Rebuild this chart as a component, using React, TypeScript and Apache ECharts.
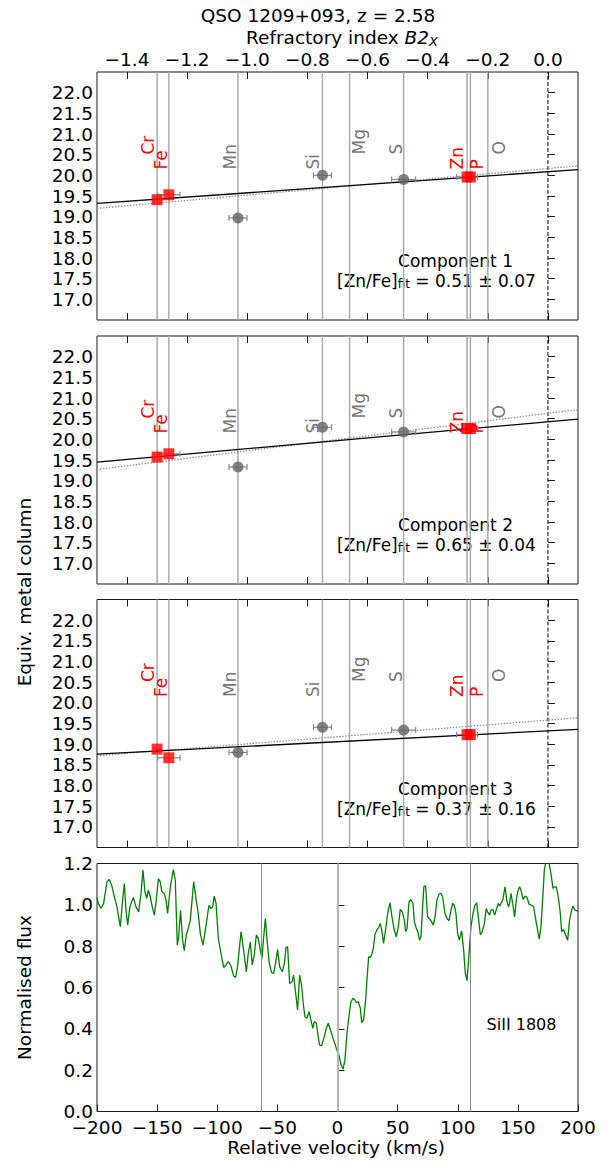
import React, { useEffect, useRef } from 'react';
import * as echarts from 'echarts';

// ---------------- data ----------------
const elements = ['Cr', 'Fe', 'Mn', 'Si', 'Mg', 'S', 'Zn', 'P', 'O'];
const refractoryIndex = [-1.3, -1.261, -1.031, -0.75, -0.66, -0.48, -0.269, -0.258, -0.2];
const refractoryErr = [0.01, 0.037, 0.03, 0.03, 0, 0.04, 0.035, 0.01, 0];
const redElements = ['Cr', 'Fe', 'Zn', 'P'];

const component1 = [19.41, 19.53, 18.97, 20.0, null, 19.9, 19.96, 19.96, null];
const component2 = [19.57, 19.65, 19.33, 20.29, null, 20.18, 20.26, 20.26, null];
const component3 = [18.88, 18.67, 18.8, 19.41, null, 19.34, 19.23, 19.23, null];
const components = [component1, component2, component3];

const fitRange = [-1.5, 0.1];
const fitSolid = [
  [19.32, 20.14],
  [19.45, 20.49],
  [18.76, 19.36],
];
const fitDotted = [
  [19.2, 20.23],
  [19.27, 20.72],
  [18.72, 19.64],
];
const znFeFit = ['0.51 ± 0.07', '0.65 ± 0.04', '0.37 ± 0.16'];
const componentNames = ['Component 1', 'Component 2', 'Component 3'];

const b2xTicks = [-1.4, -1.2, -1.0, -0.8, -0.6, -0.4, -0.2, 0.0];
const columnTicks = [17.0, 17.5, 18.0, 18.5, 19.0, 19.5, 20.0, 20.5, 21.0, 21.5, 22.0];

const velocity = [
  -200.0, -198.9, -196.7, -194.5, -191.7, -189.8, -187.8, -185.6, -183.4, -180.6,
  -178.7, -177.3, -175.9, -174.5, -172.6, -169.8, -167.6, -165.4, -163.4, -161.8,
  -160.1, -158.7, -157.3, -155.7, -153.7, -152.3, -150.7, -149.0, -147.4, -146.0,
  -144.0, -142.6, -141.3, -139.0, -136.5, -134.9, -133.2, -132.1, -130.5, -128.8,
  -127.4, -125.7, -124.1, -122.4, -119.6, -117.7, -115.8, -114.1, -111.9, -109.9,
  -106.9, -105.2, -103.8, -102.5, -101.0, -99.1, -96.9, -94.7, -92.7, -90.8,
  -88.6, -86.4, -84.7, -83.1, -80.2, -78.1, -75.8, -74.2, -72.5, -70.9,
  -69.2, -67.5, -65.9, -64.2, -62.8, -61.5, -60.0, -58.6, -56.7, -54.8,
  -53.1, -51.5, -49.8, -48.1, -45.9, -44.2, -42.8, -41.5, -39.8, -37.8,
  -36.5, -34.8, -33.2, -31.5, -29.9, -28.2, -27.0, -25.4, -23.5, -21.5,
  -20.4, -19.3, -17.6, -16.0, -14.9, -13.2, -11.0, -9.3, -7.7, -5.4,
  -3.2, -1.0, 1.5, 2.9, 4.6, 6.2, 7.9, 9.8, 11.2, 12.9,
  14.6, 15.6, 17.3, 19.0, 20.1, 21.7, 23.4, 24.5, 25.9, 27.3,
  28.7, 29.8, 31.2, 32.8, 34.5, 35.6, 37.0, 38.3, 40.3, 41.7,
  43.7, 45.3, 47.2, 48.9, 50.6, 52.2, 53.9, 55.6, 56.6, 57.8,
  59.5, 61.1, 62.8, 63.9, 65.5, 66.6, 68.3, 69.4, 71.1, 71.9,
  73.3, 74.9, 76.3, 78.3, 79.7, 81.1, 82.7, 84.4, 86.1, 87.4,
  89.4, 91.1, 92.7, 94.4, 95.7, 97.1, 98.5, 99.9, 101.3, 103.2,
  104.9, 106.3, 107.7, 109.4, 111.0, 112.7, 114.3, 115.7, 117.1, 118.8,
  120.4, 122.1, 123.7, 124.8, 126.5, 127.6, 129.3, 130.7, 132.1, 133.7,
  134.8, 136.0, 137.6, 139.3, 141.0, 142.3, 143.1, 144.3, 145.9, 147.3,
  148.7, 149.8, 151.4, 152.6, 154.3, 155.9, 157.6, 159.3, 161.4, 163.1,
  164.7, 166.4, 167.8, 169.2, 170.9, 172.0, 173.4, 175.6, 177.5, 179.2,
  180.3, 182.0, 183.6, 185.3, 186.4, 188.0, 189.7, 191.4, 193.0, 194.7,
  195.8, 197.5, 199.7,
];
const flux = [
  1.036, 1.007, 0.982, 1.007, 1.111, 1.123, 1.095, 1.039, 0.99, 0.894,
  1.023, 1.103, 0.974, 0.902, 0.99, 1.036, 0.99, 0.966, 1.055, 1.168,
  1.063, 1.031, 1.071, 1.039, 0.982, 0.95, 1.023, 1.127, 1.111, 1.063,
  1.055, 1.023, 0.958, 1.087, 1.171, 1.119, 0.805, 0.845, 0.974, 0.829,
  0.778, 0.854, 0.886, 0.926, 1.111, 1.031, 0.958, 0.862, 0.805, 0.878,
  0.998, 0.982, 0.99, 1.042, 1.007, 0.838, 0.765, 0.697, 0.709, 0.725,
  0.704, 0.656, 0.649, 0.701, 0.87, 0.781, 0.676, 0.765, 0.821, 0.709,
  0.757, 0.854, 0.838, 0.781, 0.741, 0.838, 0.934, 0.829, 0.717, 0.672,
  0.668, 0.717, 0.784, 0.701, 0.676, 0.717, 0.794, 0.797, 0.62, 0.628,
  0.66, 0.572, 0.491, 0.66, 0.612, 0.507, 0.459, 0.451, 0.483, 0.427,
  0.403, 0.435, 0.427, 0.362, 0.321, 0.318, 0.362, 0.403, 0.427, 0.386,
  0.346, 0.306, 0.266, 0.226, 0.205, 0.25, 0.379, 0.475, 0.531, 0.548,
  0.54, 0.527, 0.531, 0.5, 0.43, 0.443, 0.54, 0.636, 0.749, 0.745,
  0.765, 0.789, 0.858, 0.878, 0.894, 0.91, 0.87, 0.813, 0.894, 0.958,
  1.01, 0.942, 0.878, 0.845, 0.894, 0.978, 0.966, 0.926, 0.87, 0.886,
  1.015, 1.026, 1.007, 0.918, 0.886, 0.874, 0.829, 0.845, 1.023, 1.09,
  1.09, 0.942, 0.934, 0.918, 0.902, 0.942, 1.023, 1.052, 1.055, 1.039,
  0.958, 0.934, 0.923, 0.974, 1.007, 0.998, 0.96, 0.862, 0.829, 0.874,
  0.781, 0.668, 0.633, 0.765, 0.894, 0.958, 0.998, 1.01, 0.942, 0.854,
  0.87, 0.91, 0.982, 0.966, 0.95, 0.974, 0.977, 0.95, 0.977, 1.007,
  0.994, 1.007, 1.026, 1.087, 1.015, 0.99, 1.007, 1.055, 0.998, 0.942,
  1.023, 1.063, 1.087, 1.071, 1.026, 1.042, 1.036, 1.003, 0.998, 0.99,
  0.934, 0.878, 0.834, 0.894, 1.055, 1.168, 1.215, 1.21, 1.152, 1.079,
  1.087, 1.087, 1.039, 0.958, 0.87, 0.881, 0.854, 0.829, 0.926, 0.974,
  0.994, 0.974, 0.97,
];
const velocityMarkers = [-63, 0, 110];
const velocityTicks = [-200, -150, -100, -50, 0, 50, 100, 150, 200];
const fluxTicks = [0.0, 0.2, 0.4, 0.6, 0.8, 1.0, 1.2];

// ---------------- layout / style ----------------
const FONT = 'DejaVu Sans';
const GRID_LEFT = 97;
const GRID_WIDTH = 481;
const GRID_HEIGHT = 248;
const GRID_TOPS = [72, 336, 599.5, 863.5];
// label placement relative to element line (pixels) and distance from panel top
const labelDx = [-9, -8, -8, -9, 9, -8, -10, 7, 11];
const labelDy = [82.5, 97.5, 97.5, 97.5, 82.5, 82.5, 97.5, 97.5, 82.5];

const fmtMinus = (v: number, d: number) => {
  const s = Math.abs(v).toFixed(d);
  return v < -1e-9 ? '\u2212' + s : s;
};

export default function App() {
  const ref = useRef<HTMLDivElement>(null);

  useEffect(() => {
    if (!ref.current) return;
    const chart = echarts.init(ref.current, undefined, { renderer: 'svg' });

    const grids: any[] = GRID_TOPS.map((top) => ({
      left: GRID_LEFT,
      top,
      width: GRID_WIDTH,
      height: GRID_HEIGHT,
      show: true,
      borderColor: '#1a1a1a',
      borderWidth: 1,
      backgroundColor: 'transparent',
      containLabel: false,
      outerBoundsMode: 'none',
    }));

    const xAxes: any[] = [];
    const yAxes: any[] = [];
    for (let p = 0; p < 3; p++) {
      ['top', 'bottom'].forEach((pos) => {
        xAxes.push({
          type: 'value',
          gridIndex: p,
          position: pos,
          min: fitRange[0],
          max: fitRange[1],
          axisLine: { show: false },
          splitLine: { show: false },
          axisTick: {
            show: true,
            inside: true,
            length: 7,
            customValues: b2xTicks,
            lineStyle: { color: '#1a1a1a', width: 1 },
          },
          axisLabel: {
            show: p === 0 && pos === 'top',
            customValues: b2xTicks,
            formatter: (v: number) => fmtMinus(v, 1),
            fontSize: 18.5,
            fontFamily: FONT,
            color: '#000',
            margin: 3,
          },
        });
      });
      yAxes.push({
        type: 'value',
        gridIndex: p,
        min: 16.5,
        max: 22.5,
        axisLine: { show: false },
        splitLine: { show: false },
        axisTick: {
          show: true,
          inside: true,
          length: 7,
          customValues: columnTicks,
          lineStyle: { color: '#1a1a1a', width: 1 },
        },
        axisLabel: {
          customValues: columnTicks,
          formatter: (v: number) => v.toFixed(1),
          fontSize: 18.5,
          fontFamily: FONT,
          color: '#000',
          margin: 4,
        },
      });
    }
    xAxes.push({
      type: 'value',
      gridIndex: 3,
      position: 'bottom',
      min: -200,
      max: 200,
      interval: 50,
      axisLine: { show: false },
      splitLine: { show: false },
      axisTick: { show: true, inside: true, length: 7, customValues: velocityTicks, lineStyle: { color: '#1a1a1a' } },
      axisLabel: {
        customValues: velocityTicks,
        formatter: (v: number) => fmtMinus(v, 0),
        fontSize: 18.5,
        lineHeight: 14,
        fontFamily: FONT,
        color: '#000',
        margin: 9,
      },
    });
    yAxes.push({
      type: 'value',
      gridIndex: 3,
      min: 0,
      max: 1.2,
      interval: 0.2,
      axisLine: { show: false },
      splitLine: { show: false },
      axisTick: { show: true, inside: true, length: 7, customValues: fluxTicks, lineStyle: { color: '#1a1a1a' } },
      axisLabel: {
        customValues: fluxTicks,
        formatter: (v: number) => v.toFixed(1),
        fontSize: 18.5,
        lineHeight: 14,
        fontFamily: FONT,
        color: '#000',
        margin: 4,
      },
    });

    const series: any[] = [];
    const graphics: any[] = [];

    for (let p = 0; p < 3; p++) {
      const xi = 2 * p;
      const yi = p;
      const vals = components[p];

      // element vertical lines
      series.push({
        type: 'custom',
        xAxisIndex: xi,
        yAxisIndex: yi,
        silent: true,
        z: 1,
        encode: { x: 0 },
        data: refractoryIndex.map((x) => [x]),
        renderItem: (params: any, api: any) => {
          const cs = params.coordSys;
          const px = api.coord([api.value(0), 20])[0];
          return {
            type: 'line',
            shape: { x1: px, y1: cs.y, x2: px, y2: cs.y + cs.height },
            style: { stroke: '#ababab', lineWidth: 1.5 },
          };
        },
      });

      // zero dashed line
      series.push({
        type: 'line',
        xAxisIndex: xi,
        yAxisIndex: yi,
        silent: true,
        z: 2,
        symbol: 'none',
        data: [
          [0, 16.5],
          [0, 22.5],
        ],
        lineStyle: { color: '#000', width: 1, type: [4, 2] },
      });

      // dotted fit
      series.push({
        type: 'line',
        xAxisIndex: xi,
        yAxisIndex: yi,
        silent: true,
        z: 3,
        symbol: 'none',
        data: [
          [fitRange[0], fitDotted[p][0]],
          [fitRange[1], fitDotted[p][1]],
        ],
        lineStyle: { color: '#8c8c8c', width: 1.2, type: [1.5, 1.5] },
      });

      // solid fit
      series.push({
        type: 'line',
        xAxisIndex: xi,
        yAxisIndex: yi,
        silent: true,
        z: 3,
        symbol: 'none',
        data: [
          [fitRange[0], fitSolid[p][0]],
          [fitRange[1], fitSolid[p][1]],
        ],
        lineStyle: { color: '#000', width: 1.3 },
      });

      // error bars
      const errData: any[] = [];
      elements.forEach((el, i) => {
        if (vals[i] !== null) errData.push([refractoryIndex[i], vals[i], refractoryErr[i]]);
      });
      series.push({
        type: 'custom',
        xAxisIndex: xi,
        yAxisIndex: yi,
        silent: true,
        z: 4,
        encode: { x: 0, y: 1 },
        data: errData,
        renderItem: (params: any, api: any) => {
          const x = api.value(0);
          const y = api.value(1);
          const e = api.value(2);
          const a = api.coord([x - e, y]);
          const b = api.coord([x + e, y]);
          const st = { stroke: '#8a8a8a', lineWidth: 1.2 };
          return {
            type: 'group',
            children: [
              { type: 'line', shape: { x1: a[0], y1: a[1], x2: b[0], y2: b[1] }, style: st },
              { type: 'line', shape: { x1: a[0], y1: a[1] - 3, x2: a[0], y2: a[1] + 3 }, style: st },
              { type: 'line', shape: { x1: b[0], y1: b[1] - 3, x2: b[0], y2: b[1] + 3 }, style: st },
            ],
          };
        },
      });

      // grey circles / red squares
      const circ: any[] = [];
      const sq: any[] = [];
      elements.forEach((el, i) => {
        if (vals[i] === null) return;
        if (redElements.includes(el)) sq.push([refractoryIndex[i], vals[i]]);
        else circ.push([refractoryIndex[i], vals[i]]);
      });
      series.push({
        type: 'scatter',
        xAxisIndex: xi,
        yAxisIndex: yi,
        silent: true,
        z: 5,
        symbol: 'circle',
        symbolSize: 11,
        itemStyle: { color: '#636363' },
        data: circ,
      });
      series.push({
        type: 'scatter',
        xAxisIndex: xi,
        yAxisIndex: yi,
        silent: true,
        z: 5,
        symbol: 'rect',
        symbolSize: 11,
        itemStyle: { color: '#ff0000' },
        data: sq,
      });

      // element labels
      series.push({
        type: 'custom',
        xAxisIndex: xi,
        yAxisIndex: yi,
        silent: true,
        z: 6,
        encode: { x: 0 },
        data: refractoryIndex.map((x) => [x]),
        renderItem: (params: any, api: any) => {
          const cs = params.coordSys;
          const i = params.dataIndex;
          const px = api.coord([api.value(0), 20])[0];
          const el = elements[i];
          return {
            type: 'text',
            x: px + labelDx[i],
            y: cs.y + labelDy[i],
            rotation: Math.PI / 2,
            style: {
              text: el,
              x: 0,
              y: 0,
              align: 'left',
              verticalAlign: 'middle',
              fill: redElements.includes(el) ? '#ff0000' : '#777777',
              font: `17px "${FONT}"`,
            },
          };
        },
      });

      // component text
      const top = GRID_TOPS[p];
      graphics.push({
        type: 'text',
        x: 455.5,
        y: top + 189,
        style: {
          text: componentNames[p],
          align: 'center',
          verticalAlign: 'middle',
          fill: '#000',
          font: `17px "${FONT}"`,
        },
      });
      graphics.push({
        type: 'text',
        x: 337,
        y: top + 209,
        style: {
          text: `{m|[Zn/Fe]}{s|fit}{m| = ${znFeFit[p]}}`,
          align: 'left',
          verticalAlign: 'middle',
          fill: '#000',
          rich: {
            m: { fontSize: 17, fontFamily: FONT, lineHeight: 18, verticalAlign: 'middle', fill: '#000' },
            s: { fontSize: 12, fontFamily: FONT, lineHeight: 4, verticalAlign: 'bottom', fill: '#000' },
          },
        },
      });
    }

    // spectrum panel
    series.push({
      type: 'line',
      xAxisIndex: 6,
      yAxisIndex: 3,
      silent: true,
      z: 3,
      symbol: 'none',
      clip: true,
      data: velocity.map((v, i) => [v, flux[i]]),
      lineStyle: { color: '#008000', width: 1.3 },
      markLine: {
        silent: true,
        symbol: 'none',
        label: { show: false },
        data: velocityMarkers.map((v) =>
          v === 0
            ? { xAxis: v, lineStyle: { color: '#b5b5b5', width: 2, type: 'solid' } }
            : { xAxis: v, lineStyle: { color: '#8a8a8a', width: 1, type: 'solid' } }
        ),
      },
    });

    // texts
    graphics.push(
      {
        type: 'text',
        x: 318,
        y: 15,
        style: { text: 'QSO 1209+093, z = 2.58', align: 'center', verticalAlign: 'middle', fill: '#000', font: `18.5px "${FONT}"` },
      },
      {
        type: 'text',
        x: 342,
        y: 37.5,
        style: {
          text: '{n|Refractory index }{i|B2}{x|X}',
          align: 'center',
          verticalAlign: 'middle',
          rich: {
            n: { fontSize: 18.5, fontFamily: FONT, lineHeight: 20, verticalAlign: 'middle', fill: '#000' },
            i: { fontSize: 18.5, fontFamily: FONT, fontStyle: 'italic', lineHeight: 20, verticalAlign: 'middle', fill: '#000' },
            x: { fontSize: 13, fontFamily: FONT, fontStyle: 'italic', lineHeight: 6, verticalAlign: 'bottom', fill: '#000' },
          },
        },
      },
      {
        type: 'text',
        x: 24,
        y: 592,
        rotation: Math.PI / 2,
        style: { text: 'Equiv. metal column', align: 'center', verticalAlign: 'middle', fill: '#000', font: `18.5px "${FONT}"` },
      },
      {
        type: 'text',
        x: 24,
        y: 987.5,
        rotation: Math.PI / 2,
        style: { text: 'Normalised flux', align: 'center', verticalAlign: 'middle', fill: '#000', font: `18.5px "${FONT}"` },
      },
      {
        type: 'text',
        x: 336,
        y: 1147,
        style: { text: 'Relative velocity (km/s)', align: 'center', verticalAlign: 'middle', fill: '#000', font: `18.5px "${FONT}"` },
      },
      {
        type: 'text',
        x: 521.5,
        y: 1024,
        style: { text: 'SiII 1808', align: 'center', verticalAlign: 'middle', fill: '#000', font: `16px "${FONT}"` },
      }
    );

    chart.setOption({
      animation: false,
      backgroundColor: '#ffffff',
      textStyle: { fontFamily: FONT },
      grid: grids,
      xAxis: xAxes,
      yAxis: yAxes,
      series,
      graphic: graphics,
    });

    return () => chart.dispose();
  }, []);

  return (
    <div
      ref={ref}
      style={{ position: 'absolute', left: 0, top: 0, width: 612, height: 1162, background: '#fff' }}
    />
  );
}
